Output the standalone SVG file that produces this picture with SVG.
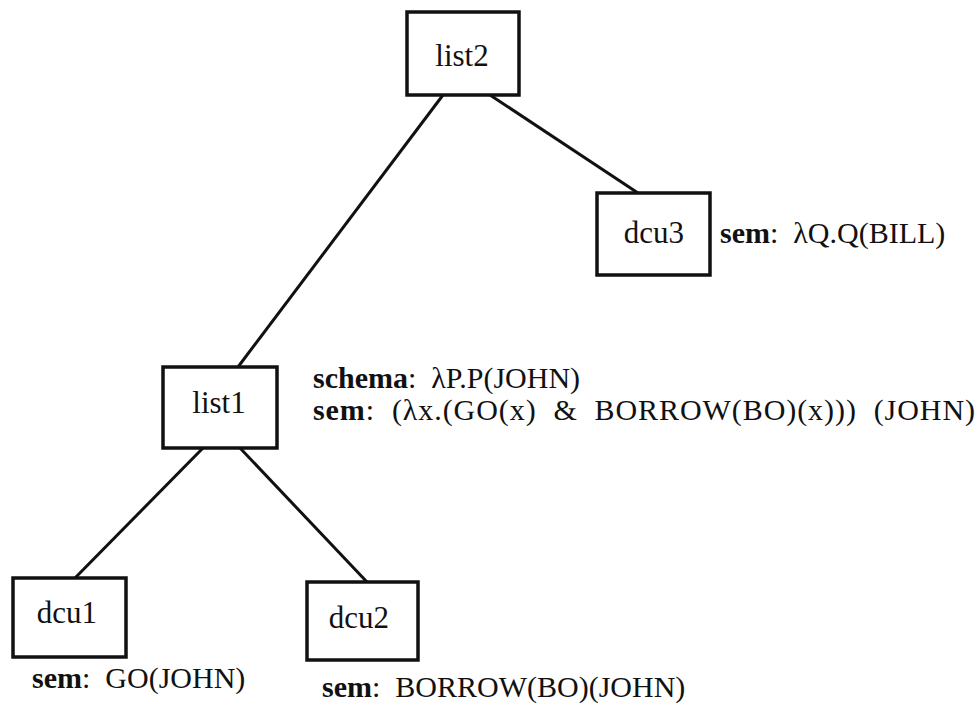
<svg xmlns="http://www.w3.org/2000/svg" width="980" height="709" viewBox="0 0 980 709">
<style>
.box{fill:#fff;stroke:#111;stroke-width:3.5}
.edge{stroke:#111;stroke-width:3;fill:none}
.lbl{font-family:"Liberation Serif","Times New Roman",serif;font-size:31px;fill:#111;text-anchor:middle}
.ann{font-family:"Liberation Serif","Times New Roman",serif;font-size:30px;fill:#111;white-space:pre}
.b{font-weight:bold}
</style>
<rect width="980" height="709" fill="#fff"/>
<g id="connectors">
<line class="edge" x1="443" y1="95" x2="238" y2="367"/>
<line class="edge" x1="490" y1="95" x2="638" y2="193"/>
<line class="edge" x1="203" y1="448" x2="75" y2="578"/>
<line class="edge" x1="240" y1="448" x2="367" y2="582"/>
</g>
<g id="list2">
<rect class="box" x="407" y="12" width="112" height="83"/>
<text class="lbl" x="462" y="66">list2</text>
</g>
<g id="dcu3">
<rect class="box" x="597" y="193" width="113" height="82"/>
<text class="lbl" x="654" y="243">dcu3</text>
<text class="ann" x="720" y="243" xml:space="preserve"><tspan class="b">sem</tspan>:  λQ.Q(BILL)</text>
</g>
<g id="list1">
<rect class="box" x="163" y="367" width="114" height="81"/>
<text class="lbl" x="219" y="413">list1</text>
<text class="ann" x="313" y="388" xml:space="preserve"><tspan class="b">schema</tspan>:  λP.P(JOHN)</text>
<text class="ann" x="313" y="420" xml:space="preserve" textLength="662" lengthAdjust="spacing"><tspan class="b">sem</tspan>:  (λx.(GO(x)  &amp;  BORROW(BO)(x)))  (JOHN)</text>
</g>
<g id="dcu1">
<rect class="box" x="13" y="578" width="113" height="79"/>
<text class="lbl" x="67" y="623">dcu1</text>
<text class="ann" x="32" y="688" xml:space="preserve"><tspan class="b">sem</tspan>:  GO(JOHN)</text>
</g>
<g id="dcu2">
<rect class="box" x="307" y="582" width="111" height="78"/>
<text class="lbl" x="359" y="628">dcu2</text>
<text class="ann" x="322" y="697" xml:space="preserve"><tspan class="b">sem</tspan>:  BORROW(BO)(JOHN)</text>
</g>
</svg>
